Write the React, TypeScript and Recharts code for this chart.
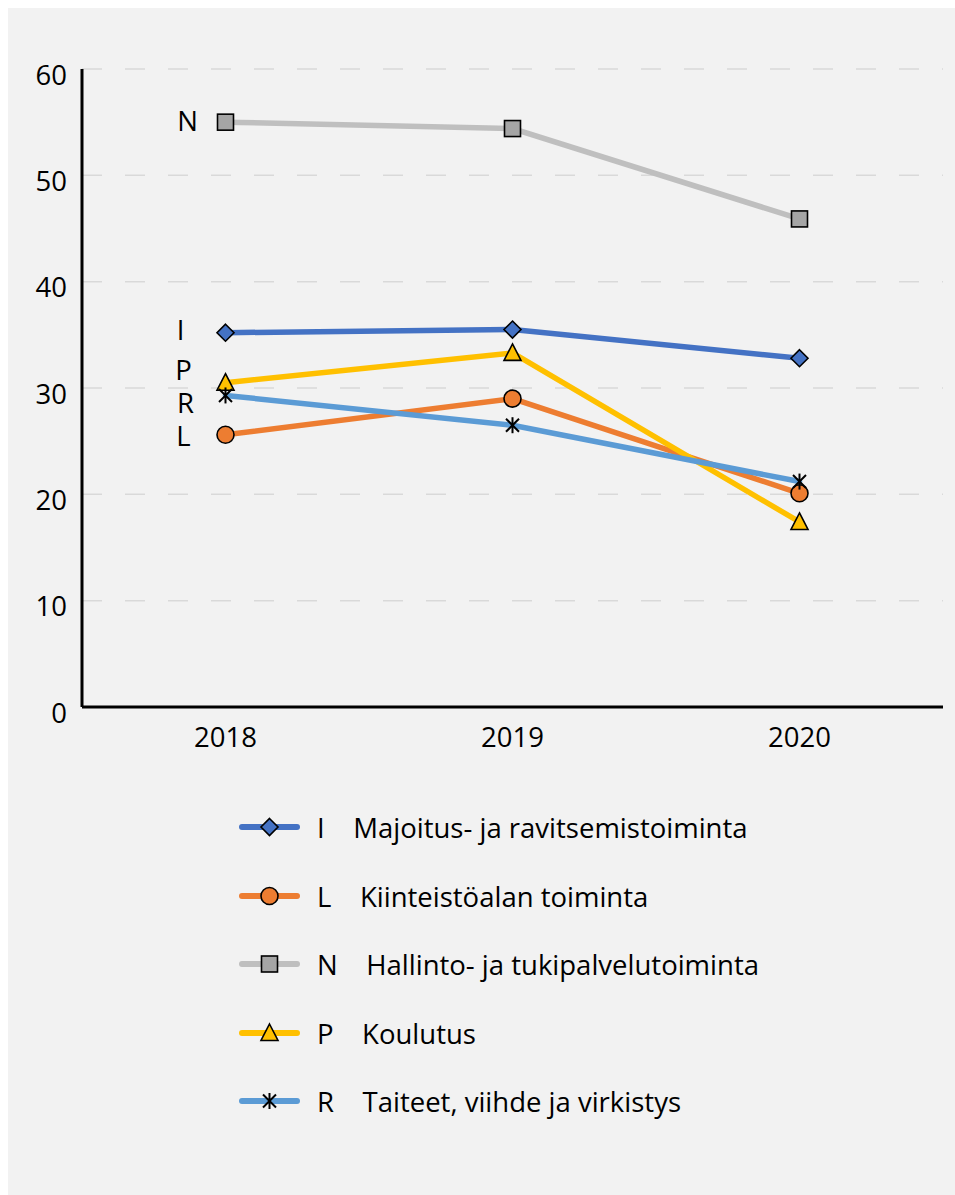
import React from "react";
import {
  LineChart, Line, XAxis, YAxis, CartesianGrid, LabelList,
} from "recharts";

const years = ["2018", "2019", "2020"];
const valuesI = [35.2, 35.5, 32.8];
const valuesL = [25.6, 29.0, 20.1];
const valuesN = [55.0, 54.4, 45.9];
const valuesP = [30.5, 33.3, 17.4];
const valuesR = [29.3, 26.5, 21.2];
const yTicks = [0, 10, 20, 30, 40, 50, 60];

const FONT = "'Open Sans', 'Noto Sans', sans-serif";
const FS = 27.5;

type Shape = "diamond" | "circle" | "square" | "triangle" | "star";

const series: {
  key: string; code: string; name: string; color: string; fill: string;
  shape: Shape; labelDx: number; labelDy: number;
}[] = [
  { key: "I", code: "I", name: "Majoitus- ja ravitsemistoiminta", color: "#4472c4", fill: "#4472c4", shape: "diamond", labelDx: -45, labelDy: -3 },
  { key: "L", code: "L", name: "Kiinteistöalan toiminta", color: "#ed7d31", fill: "#ed7d31", shape: "circle", labelDx: -42, labelDy: 1 },
  { key: "N", code: "N", name: "Hallinto- ja tukipalvelutoiminta", color: "#bfbfbf", fill: "#a5a5a5", shape: "square", labelDx: -38, labelDy: -2 },
  { key: "P", code: "P", name: "Koulutus", color: "#ffc000", fill: "#ffc000", shape: "triangle", labelDx: -42, labelDy: -13 },
  { key: "R", code: "R", name: "Taiteet, viihde ja virkistys", color: "#5b9bd5", fill: "#5b9bd5", shape: "star", labelDx: -40, labelDy: 7 },
];

const chartData = years.map((year, i) => ({
  year,
  I: valuesI[i],
  L: valuesL[i],
  N: valuesN[i],
  P: valuesP[i],
  R: valuesR[i],
}));

function Marker({ shape, cx, cy, fill }: { shape: Shape; cx: number; cy: number; fill: string }) {
  const sw = 1.6;
  switch (shape) {
    case "diamond":
      return <path d={`M${cx},${cy - 8.5}L${cx + 8.5},${cy}L${cx},${cy + 8.5}L${cx - 8.5},${cy}Z`} fill={fill} stroke="#000" strokeWidth={sw} />;
    case "circle":
      return <circle cx={cx} cy={cy} r={8.5} fill={fill} stroke="#000" strokeWidth={sw} />;
    case "square":
      return <rect x={cx - 8} y={cy - 8} width={16} height={16} fill={fill} stroke="#000" strokeWidth={sw} />;
    case "triangle":
      return <path d={`M${cx},${cy - 9}L${cx + 8.5},${cy + 7.5}L${cx - 8.5},${cy + 7.5}Z`} fill={fill} stroke="#000" strokeWidth={sw} />;
    case "star":
      return (
        <g stroke="#000" strokeWidth={2}>
          <line x1={cx} y1={cy - 8} x2={cx} y2={cy + 8} />
          <line x1={cx - 6.5} y1={cy - 6.5} x2={cx + 6.5} y2={cy + 6.5} />
          <line x1={cx - 6.5} y1={cy + 6.5} x2={cx + 6.5} y2={cy - 6.5} />
        </g>
      );
  }
}

const YTick = (props: any) => {
  const { x, y, payload } = props;
  return (
    <text x={x} y={y + 5} textAnchor="end" dominantBaseline="central" fontSize={FS} fontFamily={FONT} fill="#000">
      {payload.value}
    </text>
  );
};

export default function App() {
  return (
    <div style={{ position: "absolute", left: 8, top: 8, width: 947, height: 1187, background: "#f2f2f2", fontFamily: FONT }}>
      <LineChart width={947} height={780} data={chartData} margin={{ top: 61, right: 12, left: 14, bottom: 41 }}>
        <CartesianGrid vertical={false} stroke="#d9d9d9" strokeWidth={1.5} strokeDasharray="20 23" />
        <XAxis
          dataKey="year"
          padding={{ left: 143.5, right: 143.5 }}
          axisLine={{ stroke: "#000", strokeWidth: 3 }}
          tickLine={false}
          tickSize={0}
          tickMargin={20}
          height={40}
          tick={{ fontSize: FS, fill: "#000", fontFamily: FONT }}
        />
        <YAxis
          domain={[0, 60]}
          ticks={yTicks}
          width={60}
          axisLine={{ stroke: "#000", strokeWidth: 3 }}
          tickLine={false}
          tickSize={0}
          tickMargin={15}
          tick={<YTick />}
        />
        {series.map((s) => (
          <Line
            key={s.key}
            dataKey={s.key}
            stroke={s.color}
            strokeWidth={5.5}
            strokeLinecap="round"
            isAnimationActive={false}
            dot={(p: any) => <Marker key={`${s.key}-${p.index}`} shape={s.shape} cx={p.cx} cy={p.cy} fill={s.fill} />}
            activeDot={false}
          >
            <LabelList
              dataKey={s.key}
              content={(p: any) =>
                p.index === 0 ? (
                  <text x={p.x + s.labelDx} y={p.y + s.labelDy} textAnchor="middle" dominantBaseline="central" fontSize={FS} fontFamily={FONT} fill="#000">
                    {s.code}
                  </text>
                ) : null
              }
            />
          </Line>
        ))}
      </LineChart>
      {/* legend */}
      <div style={{ position: "absolute", left: 0, top: 795 }}>
        {series.map((s, i) => (
          <div key={s.key} style={{ position: "absolute", left: 0, top: i * 68.5, width: 800, height: 44 }}>
            <svg width={70} height={44} style={{ position: "absolute", left: 226, top: 0 }}>
              <line x1={8} y1={24} x2={63} y2={24} stroke={s.color} strokeWidth={6} strokeLinecap="round" />
              <Marker shape={s.shape} cx={35.5} cy={24} fill={s.fill} />
            </svg>
            <span style={{ position: "absolute", left: 309, top: 5, fontSize: FS, lineHeight: "40px", whiteSpace: "pre", color: "#000" }}>
              {s.code + "    " + s.name}
            </span>
          </div>
        ))}
      </div>
    </div>
  );
}
